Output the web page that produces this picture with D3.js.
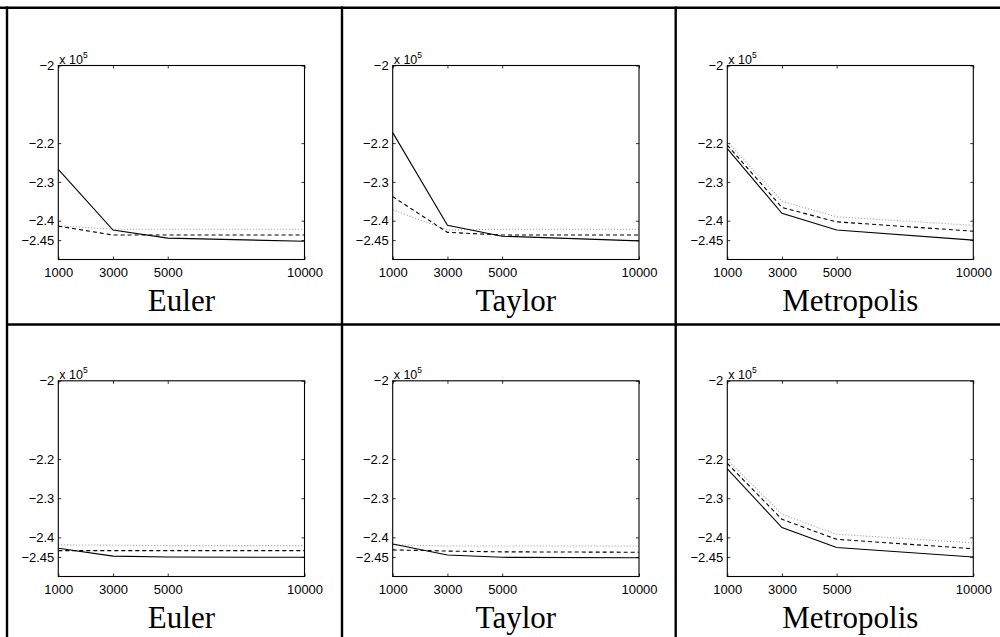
<!DOCTYPE html>
<html>
<head>
<meta charset="utf-8">
<script src="https://cdn.jsdelivr.net/npm/d3@7"></script>
<style>
  html, body { margin: 0; padding: 0; background: #fff; }
  svg { display: block; }
</style>
</head>
<body>
<svg id="chart" width="1000" height="637"></svg>
<script>
// ---- data ----
const xValues = [1000, 3000, 5000, 10000];
const xTicks = [1000, 3000, 5000, 10000];
const yTicks = [-2, -2.2, -2.3, -2.4, -2.45];
const yDomain = [-2.5, -2];
const methods = ["Euler", "Taylor", "Metropolis"];

// values are in units of 10^5
const topSolid  = [[-2.268, -2.424, -2.445, -2.453], [-2.173, -2.412, -2.440, -2.452], [-2.214, -2.381, -2.424, -2.450]];
const topDashed = [[-2.414, -2.437, -2.437, -2.437], [-2.338, -2.430, -2.437, -2.437], [-2.205, -2.366, -2.403, -2.427]];
const topDotted = [[-2.413, -2.422, -2.422, -2.422], [-2.372, -2.424, -2.422, -2.422], [-2.196, -2.350, -2.390, -2.412]];

const botSolid  = [[-2.428, -2.448, -2.450, -2.451], [-2.417, -2.445, -2.451, -2.452], [-2.225, -2.375, -2.426, -2.450]];
const botDashed = [[-2.434, -2.434, -2.434, -2.434], [-2.432, -2.435, -2.437, -2.438], [-2.211, -2.354, -2.405, -2.429]];
const botDotted = [[-2.419, -2.420, -2.421, -2.421], [-2.419, -2.422, -2.422, -2.422], [-2.202, -2.341, -2.392, -2.414]];

// ---- layout ----
const svg = d3.select("#chart");
const colLeft = [7, 342, 675.7];
const rowTop = [7.8, 324.5];
const plotX = [[58.3, 304.5], [392.7, 639], [727.3, 973.3]];
const plotY = [[65.5, 259.5], [380.8, 576.5]];

// table grid
const grid = svg.append("g").attr("stroke", "#000").attr("stroke-width", 2.4);
grid.append("line").attr("x1", 0).attr("x2", 1000).attr("y1", rowTop[0]).attr("y2", rowTop[0]);
grid.append("line").attr("x1", colLeft[0]).attr("x2", 1000).attr("y1", rowTop[1]).attr("y2", rowTop[1]);
colLeft.forEach(x => grid.append("line").attr("x1", x).attr("x2", x).attr("y1", rowTop[0] - 1.2).attr("y2", 637));

const rows = [
  {solid: topSolid, dashed: topDashed, dotted: topDotted},
  {solid: botSolid, dashed: botDashed, dotted: botDotted}
];

rows.forEach((row, r) => {
  methods.forEach((m, c) => {
    const x = d3.scaleLinear().domain([1000, 10000]).range(plotX[c]);
    const y = d3.scaleLinear().domain(yDomain).range([plotY[r][1], plotY[r][0]]);
    const g = svg.append("g");
    const x0 = plotX[c][0], x1 = plotX[c][1], y0 = plotY[r][0], y1 = plotY[r][1];

    // lines
    const line = d3.line().x((d, i) => x(xValues[i])).y(d => y(d));
    g.append("path").datum(row.dotted[c]).attr("d", line)
      .attr("fill", "none").attr("stroke", "#9a9a9a").attr("stroke-width", 1.1).attr("stroke-dasharray", "1,2");
    g.append("path").datum(row.dashed[c]).attr("d", line)
      .attr("fill", "none").attr("stroke", "#000").attr("stroke-width", 1.1).attr("stroke-dasharray", "4,3");
    g.append("path").datum(row.solid[c]).attr("d", line)
      .attr("fill", "none").attr("stroke", "#000").attr("stroke-width", 1.1);

    // axes (ticks inward)
    const fontCss = "Liberation Sans, Arial, sans-serif";
    const bottomAxis = d3.axisBottom(x).tickValues(xTicks).tickSize(-3).tickPadding(8).tickFormat(d3.format("d"));
    const gb = g.append("g").attr("transform", `translate(0,${y1})`).call(bottomAxis);
    const topAxis = d3.axisTop(x).tickValues(xTicks).tickSize(-3).tickFormat("");
    const gt = g.append("g").attr("transform", `translate(0,${y0})`).call(topAxis);
    const leftAxis = d3.axisLeft(y).tickValues(yTicks).tickSize(-3).tickPadding(4)
      .tickFormat(d => d3.format("")(d).replace("-", "\u2212"));
    const gl = g.append("g").attr("transform", `translate(${x0},0)`).call(leftAxis);
    const rightAxis = d3.axisRight(y).tickValues(yTicks).tickSize(-3).tickFormat("");
    const gr = g.append("g").attr("transform", `translate(${x1},0)`).call(rightAxis);
    [gb, gt, gl, gr].forEach(a => {
      a.select(".domain").remove();
      a.selectAll("line").attr("stroke", "#000").attr("stroke-width", 0.8);
      a.selectAll("text").attr("font-family", fontCss).attr("font-size", 13).attr("fill", "#000");
    });

    // frame
    g.append("rect").attr("x", x0).attr("y", y0).attr("width", x1 - x0).attr("height", y1 - y0)
      .attr("fill", "none").attr("stroke", "#000").attr("stroke-width", 1.1);

    // exponent label
    const ex = g.append("text").attr("x", x0 + 1).attr("y", y0 - 2)
      .attr("font-family", fontCss).attr("font-size", 12.5).attr("fill", "#000");
    ex.append("tspan").text("x 10");
    ex.append("tspan").attr("dy", -6).attr("font-size", 8.5).text("5");

    // caption
    g.append("text").attr("x", (x0 + x1) / 2).attr("y", y1 + 51)
      .attr("text-anchor", "middle").attr("font-family", "Liberation Serif, Times New Roman, serif")
      .attr("font-size", 31).attr("fill", "#000").text(m);
  });
});
</script>
</body>
</html>
